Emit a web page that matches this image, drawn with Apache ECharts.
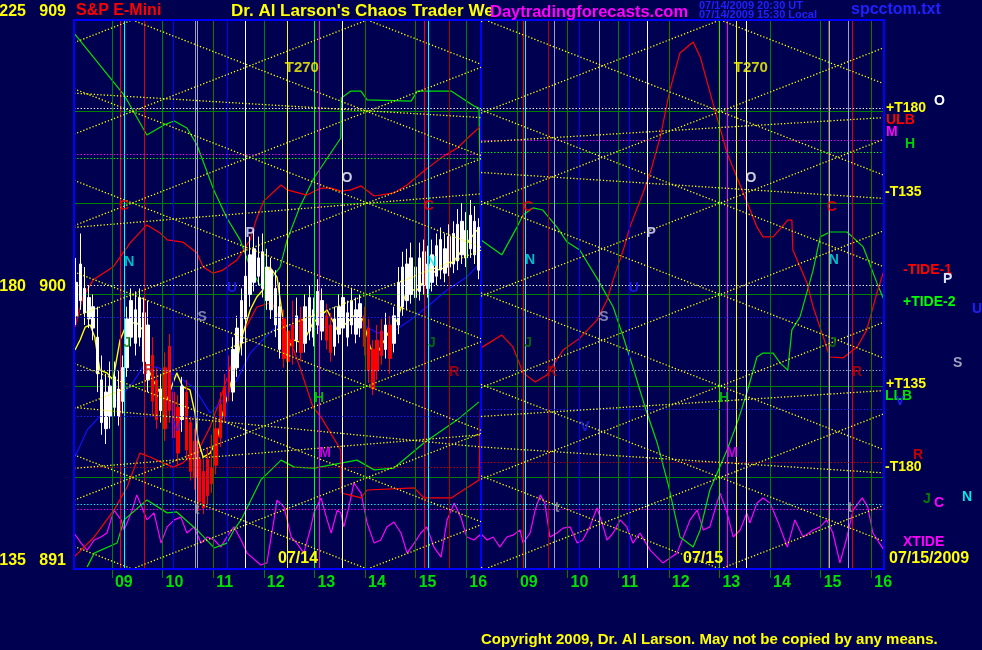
<!DOCTYPE html>
<html><head><meta charset="utf-8">
<script src="https://cdn.jsdelivr.net/npm/echarts@6/dist/echarts.min.js"></script>
<style>html,body{margin:0;padding:0;background:#000050;}#c{width:982px;height:650px;}</style>
</head><body><div id="c"></div><script>
// ---------------- DATA ----------------
const hourTicks = [9,10,11,12,13,14,15,16,17,18,19,20,21,22,23,24];
const hourTickLabels = ['09','10','11','12','13','14','15','16','09','10','11','12','13','14','15','16'];
const hourLineColors = ['#008000','#008000','#008000','#008000','#00ff00','#008000','#008000','#008000','#008000','#008000','#008000','#008000','#00ff00','#008000','#008000','#008000'];
const priceLabels = {891:'135   891', 900:'180   900', 909:'225   909'};
const dayStart = [8.25, 16.29];
const dayEnd = [16.29, 24.25];

// candles (day 1, 5-minute bars from 08:15)
const candleOpen  = [899.3,899.8,899.4,899.2,898.9,897.4,895.8,895.6,896.0,896.3,896.0,896.5,897.6,898.6,898.4,898.6,897.8,897.2,
 898.0,897.2,896.2,897.6,898.3,896.8,896.3,895.9,896.8,895.8,895.2,894.6,894.2,894.6,894.3,895.6,896.4,897.0,897.6,
 896.8,897.6,898.4,899.2,900.0,900.4,900.6,900.2,899.8,899.5,899.0,898.2,
 899.2,898.8,899.0,898.5,899.2,
 898.4,898.8,898.6,899.0,898.8,899.3,899.0,898.3,898.7,898.9,898.6,899.0,898.7,898.9,
 899.3,898.9,898.2,898.5,898.8,898.2,899.0,898.4,
 899.0,899.6,899.8,900.0,899.9,900.1,900.3,900.2,900.4,900.6,900.8,900.7,900.9,901.0,901.1,901.3,901.2,901.5,901.3,900.8];
const candleClose = [900.4,901.0,900.2,899.9,899.6,898.6,897.2,896.8,897.0,897.3,896.9,897.6,899.2,899.8,899.5,899.9,899.4,899.0,
 896.5,895.9,896.9,895.6,896.2,895.3,894.8,897.0,894.9,894.2,894.0,893.2,893.0,893.4,893.8,894.4,895.3,896.0,896.8,
 898.2,898.9,899.8,900.6,901.3,901.5,901.2,901.4,900.9,900.8,900.2,899.6,
 897.9,897.8,898.3,899.3,898.1,
 899.6,899.9,899.5,900.1,899.8,898.5,898.1,899.2,899.6,899.9,899.4,899.8,899.5,899.7,
 898.3,897.5,896.9,897.5,898.0,899.0,897.9,899.3,
 900.4,900.9,901.0,901.2,900.9,901.2,901.4,901.0,901.3,901.6,901.8,901.5,901.9,902.0,902.3,902.4,902.1,902.6,902.4,902.2];
const candleLow   = [899.0,899.5,899.0,898.9,898.5,896.8,895.4,895.1,895.6,896.0,895.7,896.1,897.3,898.3,898.0,898.3,897.4,896.8,
 896.0,895.6,895.8,895.2,895.8,894.9,894.4,895.5,894.6,893.9,893.6,892.9,892.8,893.1,893.5,894.1,895.0,895.8,896.5,
 896.5,897.3,898.0,898.9,899.6,900.1,900.3,899.9,899.5,899.2,898.6,897.9,
 897.6,897.6,897.7,898.1,897.8,
 898.1,898.5,898.3,898.7,898.5,898.2,897.8,898.0,898.4,898.6,898.3,898.7,898.4,898.6,
 898.0,897.1,896.7,897.2,897.7,897.9,897.4,898.1,
 898.7,899.3,899.5,899.7,899.6,899.8,900.0,899.9,900.1,900.3,900.5,900.4,900.6,900.7,900.8,901.0,900.9,901.2,901.0,900.5];
const candleHigh  = [901.2,902.0,900.9,900.3,900.0,899.6,898.0,897.4,897.8,897.8,897.5,898.0,899.6,900.2,900.1,900.2,899.9,899.8,
 898.6,897.6,897.4,898.1,898.7,897.1,896.7,897.3,897.2,896.0,895.6,895.0,894.6,895.0,895.4,896.0,896.8,897.4,898.0,
 898.6,899.3,900.2,901.2,901.9,902.1,901.9,902.0,901.5,901.2,900.8,900.4,
 899.5,899.2,899.8,899.9,899.6,
 900.0,900.3,899.9,900.5,900.2,899.7,899.4,899.6,900.0,900.3,899.8,900.2,899.9,900.0,
 899.6,899.2,898.5,899.0,899.2,899.4,899.3,899.6,
 900.9,901.4,901.5,901.7,901.6,901.7,901.8,901.6,901.8,902.0,902.2,902.0,902.3,902.4,902.8,903.0,902.7,903.1,902.9,902.5];

// curves: [hour, price]
const greenTideHour  = [8.25,9.24,9.69,10.03,10.23,10.48,10.68,11.02,11.27,11.53,11.73,11.92,12.12,12.32,12.46,12.71,12.99,13.52,13.53,13.72,13.92,14.04,14.91,15.03,15.70,16.15,16.25,16.29,
 16.70,17.0,17.12,17.32,17.51,17.79,17.99,18.24,18.6,18.9,19.1,19.29,19.53,19.77,19.98,20.22,20.48,20.62,20.81,21.15,21.35,21.54,21.74,21.86,22.06,22.2,22.35,22.43,22.59,22.85,22.99,23.18,23.52,23.84,24.11,24.25];
const greenTidePrice = [908.57,906.54,905.23,905.56,905.69,905.46,904.90,903.39,902.51,901.79,900.90,900.31,900.48,900.90,901.79,902.87,903.82,905.13,906.44,906.67,906.67,906.38,906.34,906.67,906.67,906.18,906.11,901.79,
 901.30,902.21,902.61,902.84,902.77,902.21,901.72,901.46,900.48,899.59,898.61,897.62,896.31,895.13,893.82,892.05,891.72,892.28,893.59,894.90,895.79,896.77,897.95,898.08,898.08,897.75,897.52,898.84,899.26,900.80,901.89,902.05,902.05,901.56,900.38,899.82];
const greenLowHour  = [8.51,8.65,9.1,9.24,9.69,10.09,10.28,10.68,11.02,11.27,11.41,11.55,11.94,12.34,12.6,12.99,13.84,14.18,14.57,15.16,15.82,16.25];
const greenLowPrice = [891.07,891.52,891.85,892.61,893.26,892.84,892.87,892.28,891.69,891.85,892.28,892.61,893.92,894.57,894.34,894.31,894.57,894.25,894.31,895.13,895.89,896.48];
const redTideHour  = [8.27,8.43,8.63,9.02,9.36,9.69,9.95,10.09,10.4,10.68,10.8,11.0,11.19,11.47,11.73,11.86,12.0,12.34,12.46,12.85,13.13,13.33,13.52,13.72,13.92,14.18,14.57,14.83,15.16,15.5,15.82,16.09,16.29,16.29,
 16.7,16.92,17.12,17.36,17.59,17.91,18.24,18.58,18.78,18.9,19.1,19.23,19.49,19.63,19.83,20.02,20.22,20.48,20.62,20.87,21.15,21.47,21.74,21.86,22.06,22.35,22.43,22.45,22.73,22.85,23.05,23.18,23.44,23.72,23.91,24.11,24.25];
const redTidePrice = [898.93,899.92,900.48,900.90,901.69,902.28,902.02,901.79,901.72,901.36,900.90,900.70,900.80,901.13,901.79,902.51,903.07,903.59,903.43,903.26,903.49,903.49,903.39,903.43,903.56,903.23,903.33,903.59,904.05,904.48,904.80,905.23,905.52,898.25,
 898.67,898.28,897.43,897.13,897.36,898.18,898.57,899.16,899.82,900.48,901.46,902.21,903.33,903.98,905.16,906.70,907.92,908.28,907.79,906.28,904.64,903.33,902.21,901.89,901.89,902.44,902.44,901.46,900.38,899.59,898.61,897.95,897.92,898.28,898.84,900.05,900.80];
const redLowHour  = [8.25,8.65,9.04,9.3,9.55,9.75,10.01,10.21,10.4,10.74,10.94,11.13,11.39,11.59,11.86,12.12,12.18,12.32,12.52,12.71,12.97,13.13,13.52,13.54,13.92,14.04,14.97,15.16,15.7,16.25,16.29];
const redLowPrice = [891.39,892.05,892.93,893.69,894.80,894.67,894.48,894.34,894.48,895.0,895.66,896.54,897.85,898.74,899.59,899.72,899.66,899.16,898.51,897.62,896.31,895.98,894.90,893.49,893.33,893.59,893.66,893.33,893.33,893.92,897.2];
const blueHour  = [8.27,8.51,8.82,9.16,9.42,9.61,9.89,10.15,10.4,10.6,10.74,10.94,11.19,11.47,11.73,11.98,12.32,12.58,12.91,13.25,13.56,13.9,14.24,14.55,14.89,15.22,15.62,16.01,16.27];
const bluePrice = [894.67,895.56,896.11,896.64,897.13,897.62,897.62,897.43,897.2,896.97,896.64,896.11,896.54,897.2,898.08,898.51,899.07,898.93,898.84,898.93,899.0,899.07,898.74,898.77,899.16,899.59,900.15,900.57,901.03];
const avgHour  = [8.27,8.37,8.47,8.57,8.66,8.76,8.9,9.02,9.16,9.3,9.49,9.61,9.71,9.81,9.99,10.09,10.19,10.28,10.4,10.54,10.64,10.7,10.8,10.94,11.07,11.19,11.33,11.47,11.59,11.73,11.86,11.98,12.12,12.26,12.38,12.46,12.58,12.77,12.97,13.25,13.45,13.64,13.84,13.96,14.1,14.2,14.35,14.49,14.63,14.83,15.03,15.22,15.42,15.62,15.82,16.01,16.21];
const avgPrice = [898.18,898.51,898.93,899.0,898.61,897.52,897.43,897.2,898.51,899.07,899.07,898.84,897.62,897.2,896.64,896.54,897.03,897.43,896.97,896.87,896.11,895.23,894.67,894.8,895.23,896.11,896.97,897.85,898.74,899.49,899.92,900.15,900.90,900.57,899.16,898.18,898.51,898.41,899.07,899.49,898.84,899.07,899.39,899.16,898.28,897.95,898.41,898.84,899.16,900.15,900.15,900.57,900.80,900.90,901.23,901.69,902.11];
const xtideHour  = [8.25,8.39,8.51,8.65,8.78,8.9,9.04,9.18,9.24,9.4,9.49,9.59,9.69,9.83,9.97,10.09,10.23,10.36,10.48,10.62,10.76,10.88,11.02,11.15,11.27,11.41,11.55,11.67,11.94,12.06,12.2,12.26,12.4,12.54,12.65,12.79,12.93,12.99,13.13,13.25,13.33,13.45,13.52,13.58,13.68,13.78,13.92,14.04,14.18,14.31,14.43,14.57,14.71,14.83,14.97,15.1,15.22,15.36,15.5,15.62,15.76,15.89,16.01,16.15,16.29,
 16.41,16.53,16.66,16.8,16.92,17.06,17.12,17.26,17.36,17.46,17.55,17.65,17.79,17.91,18.05,18.19,18.3,18.44,18.58,18.68,18.78,18.9,19.04,19.17,19.29,19.43,19.63,19.88,20.16,20.42,20.56,20.68,20.81,20.95,21.01,21.15,21.27,21.41,21.54,21.6,21.74,21.86,22.0,22.14,22.34,22.49,22.65,22.85,22.99,23.12,23.24,23.38,23.52,23.64,23.82,23.93,24.03,24.25];
const xtidePrice = [892.18,891.85,891.62,891.95,892.05,892.18,892.93,892.61,892.28,892.93,893.43,893.03,892.61,892.84,891.85,892.38,892.61,892.70,892.18,892.38,891.85,892.05,891.95,891.72,892.05,892.38,891.95,891.52,891.13,891.2,892.61,893.26,893.03,892.05,891.85,891.52,892.38,892.84,893.33,892.61,892.18,892.93,892.84,892.38,893.03,893.82,893.49,892.51,891.85,891.95,892.38,892.54,892.18,891.52,891.85,892.18,892.38,891.72,891.39,892.61,893.16,892.7,892.05,891.95,892.15,
 891.95,892.05,891.72,892.05,892.11,892.28,891.85,892.18,892.93,893.43,893.16,892.05,892.18,892.34,892.38,891.85,891.95,892.38,893.0,892.51,891.95,892.18,892.61,892.38,891.85,892.18,891.62,891.2,891.52,892.61,892.93,892.28,892.38,893.16,893.49,892.84,892.05,892.28,892.84,892.51,893.16,893.33,893.16,892.61,891.72,892.61,892.05,892.28,892.38,892.61,892.18,891.2,892.05,892.93,893.33,893.03,892.18,891.62];

// vertical event lines
const vLineHour  = [9.16,9.24,9.63,10.21,10.64,10.68,11.27,11.63,12.46,13.09,13.54,15.16,15.24,15.66,
 17.12,17.16,17.61,17.73,18.23,18.62,19.21,19.57,21.15,21.33,21.52,23.14,23.16,23.54,23.62];
const vLineColor = ['#ff0000','#00ffff','#e00000','#0000ff','#a0a0c8','#a0a0c8','#0000ff','#ffffff','#ffff00','#ff00ff','#ffffff','#ff0000','#00ffff','#b00000',
 '#ff0000','#00ffff','#b00000','#a0a0c8','#0000ff','#a0a0c8','#0000ff','#ffffff','#ff00ff','#ffff00','#ffffff','#ff0000','#00ffff','#a0a0c8','#e00000'];

// horizontal dotted levels
const hLinePrice = [906.11,904.60,904.48,905.06,904.65,900.31,899.26,897.52,896.02,896.25,894.34,894.51,893.13,892.97];
const hLineFrom  = [8.25,8.25,8.25,16.29,16.29,8.25,8.25,8.25,8.25,16.29,8.25,16.29,8.25,8.25];
const hLineTo    = [24.25,16.29,16.29,24.25,24.25,24.25,24.25,24.25,16.29,24.25,16.29,24.25,24.25,24.25];
const hLineColor = ['#ffffff','#ff00ff','#00ff00','#ff00ff','#00ff00','#ffffff','#2020ff','#b0b0d0','#2020ff','#2020ff','#d00000','#d00000','#00ffff','#ff00ff'];

// T lines: lattice through apex times, plus slow T135/T180 lines
const tApexHour = [9.40, 16.37];
const tSlope = 0.646;   // price points per hour
const tStep = 3;
const tFlatFromHour  = [8.25,8.25,8.25,8.25,16.29,16.29,16.29,16.29];
const tFlatToHour    = [16.29,16.29,16.29,16.29,24.25,24.25,24.25,24.25];
const tFlatFromPrice = [906.6,902.2,896.3,894.3,905.0,904.0,896.0,895.0];
const tFlatToPrice   = [905.8,903.3,895.0,895.4,905.8,903.15,896.85,894.15];

// letters in plot
const letterText  = ['C','C','N','N','P','O','U','S','J','J','R','R','H','V','M','t','T270',
                     'C','C','N','N','P','O','U','S','J','J','R','R','H','V','M','t','t','T270'];
const letterHour  = [9.24,15.26,9.34,15.32,11.73,13.64,11.37,10.78,9.30,15.32,9.73,15.76,13.09,10.29,13.21,10.68,12.75,
                     17.22,23.22,17.26,23.26,19.65,21.62,19.31,18.72,17.22,23.24,17.69,23.72,21.09,18.34,21.25,17.79,23.58,21.62];
const letterPrice = [902.9,902.9,901.07,901.07,902.02,903.82,900.21,899.26,898.41,898.41,897.52,897.46,896.61,895.66,894.8,892.93,907.43,
                     902.87,902.87,901.13,901.13,902.02,903.82,900.21,899.26,898.41,898.41,897.46,897.46,896.61,895.66,894.8,893.0,893.0,907.43];
const letterColor = {C:'#ff0000',N:'#00e8e8',P:'#e0e0ff',O:'#ffffff',U:'#2020ff',S:'#a0a0c0',J:'#008000',R:'#c00000',H:'#00e000',V:'#2020ff',M:'#ff00ff',t:'#a0a0a0',T270:'#ffff00'};

// ---------------- BUILD ----------------
const FONT = '"Liberation Sans", Arial, sans-serif';
function pairs(xs, ys){ return xs.map((x,i)=>[x, ys[i]]); }
function clipLine(h0, p0, s, hA, hB){
  const hLo = h0 + (891 - p0)/s, hHi = h0 + (909 - p0)/s;
  const a = Math.max(hA, Math.min(hLo,hHi)), b = Math.min(hB, Math.max(hLo,hHi));
  if (b <= a) return null;
  return [[a, p0 + s*(a-h0)], [b, p0 + s*(b-h0)]];
}
const DOT = [1.3, 2];
const mlData = [];
hourTicks.forEach((h,i)=>mlData.push([{coord:[h,891], lineStyle:{color:hourLineColors[i], width:1, type:'solid'}},{coord:[h,909]}]));
vLineHour.forEach((h,i)=>mlData.push([{coord:[h,891], lineStyle:{color:vLineColor[i], width:1, type:'solid'}},{coord:[h,909]}]));
mlData.push([{coord:[16.29,891], lineStyle:{color:'#0000ff', width:2, type:'solid'}},{coord:[16.29,909]}]);
hLinePrice.forEach((p,i)=>mlData.push([{coord:[hLineFrom[i],p], lineStyle:{color:hLineColor[i], width:1.2, type:DOT}},{coord:[hLineTo[i],p]}]));
tApexHour.forEach((h0,d)=>{
  for (let n=-10;n<=16;n++){
    [tSlope,-tSlope].forEach(s=>{
      const seg = clipLine(h0, 891 + tStep*n, s, dayStart[d], dayEnd[d]);
      if (seg) mlData.push([{coord:seg[0], lineStyle:{color:'#ffff00', width:1.3, type:DOT}},{coord:seg[1]}]);
    });
  }
});
tFlatFromHour.forEach((h,i)=>mlData.push([{coord:[h,tFlatFromPrice[i]], lineStyle:{color:'#ffff00', width:1.3, type:DOT}},{coord:[tFlatToHour[i],tFlatToPrice[i]]}]));

const candleCats = candleOpen.map((_,i)=>{const m=8*60+15+i*5; return String(Math.floor(m/60)).padStart(2,'0')+':'+String(m%60).padStart(2,'0');});
const candleData = candleOpen.map((o,i)=>[o, candleClose[i], candleLow[i], candleHigh[i]]);

const letterData = letterText.map((t,i)=>({value:[letterHour[i], letterPrice[i]], name:t,
  label:{color:letterColor[t], fontSize: t==='T270'?15:14}}));

function curve(xs, ys, color, width){
  return {type:'line', xAxisIndex:0, yAxisIndex:0, data:pairs(xs,ys), showSymbol:false, symbol:'none', z:3,
    lineStyle:{color, width: width||1.2}, silent:true, clip:true};
}

const txt = (text, x, y, fill, size, align) => ({type:'text', x, y, z:100, silent:true,
  style:{text, fill, font:'bold '+size+'px '+FONT, align: align||'left', verticalAlign:'middle'}});

const option = {
  backgroundColor:'#000050',
  animation:false,
  grid:[
    {left:74, top:20, width:810, height:549, show:true, borderColor:'#0000ff', borderWidth:2, backgroundColor:'transparent', z:10,
     containLabel:false, outerBoundsMode:'none'},
    {left:74, top:20, width:407, height:549, show:false, containLabel:false, outerBoundsMode:'none'}
  ],
  xAxis:[
    {type:'value', gridIndex:0, min:8.25, max:24.25, splitLine:{show:false},
     axisLine:{show:false},
     axisTick:{show:true, customValues:hourTicks, length:9, lineStyle:{color:'#008000'}},
     axisLabel:{show:true, customValues:hourTicks, color:'#00e000', fontWeight:'bold', fontSize:16, fontFamily:FONT,
       align:'left', margin:6, padding:[0,0,0,3],
       formatter:(v)=>{const i=hourTicks.indexOf(Math.round(v)); return i>=0?hourTickLabels[i]:'';}}},
    {type:'category', gridIndex:1, data:candleCats, boundaryGap:true, show:false}
  ],
  yAxis:[
    {type:'value', gridIndex:0, min:891, max:909, interval:3,
     splitLine:{show:true, lineStyle:{color:'#008000', width:1}},
     axisLine:{show:false}, axisTick:{show:false},
     axisLabel:{color:'#ffff00', fontWeight:'bold', fontSize:16, fontFamily:FONT, margin:8, verticalAlign:'bottom',
       formatter:(v)=>priceLabels[v]||''}},
    {type:'value', gridIndex:1, min:891, max:909, show:false}
  ],
  series:[
    {type:'line', xAxisIndex:0, yAxisIndex:0, data:[[8.25,891]], symbol:'none', silent:true, z:1,
     lineStyle:{width:0},
     markLine:{silent:true, symbol:['none','none'], label:{show:false}, emphasis:{disabled:true}, animation:false, data:mlData}},
    curve(xtideHour, xtidePrice, '#ff00ff', 1.2),
    curve(greenLowHour, greenLowPrice, '#00e000', 1.2),
    curve(greenTideHour, greenTidePrice, '#00e000', 1.2),
    curve(redLowHour, redLowPrice, '#ff0000', 1.2),
    curve(redTideHour, redTidePrice, '#ff0000', 1.2),
    curve(blueHour, bluePrice, '#1010ff', 1.2),
    {type:'candlestick', xAxisIndex:1, yAxisIndex:1, data:candleData, barWidth:3, z:4, silent:true,
     itemStyle:{color:'#ffffff', color0:'#ff0000', borderColor:'#ffffff', borderColor0:'#ff0000', borderWidth:1}},
    curve(avgHour, avgPrice, '#ffff00', 1.4),
    {type:'scatter', xAxisIndex:0, yAxisIndex:0, data:letterData, symbolSize:0, z:6, silent:true,
     label:{show:true, position:'inside', formatter:(p)=>p.name, fontWeight:'bold', fontFamily:FONT}}
  ],
  graphic:[
    txt('S&P E-Mini', 76, 11, '#ff0000', 16),
    txt("Dr. Al Larson's Chaos Trader We", 231, 11, '#ffff00', 17),
    txt('Daytradingforecasts.com', 490, 12, '#ff00ff', 16.5),
    txt('07/14/2009 20:30 UT', 699, 6, '#2020ff', 11),
    txt('07/14/2009 15:30 Local', 699, 15, '#2020ff', 11),
    txt('spcctom.txt', 851, 10, '#2020ff', 16),
    txt('07/14', 278, 559, '#ffff00', 16),
    txt('07/15', 683, 559, '#ffff00', 16),
    txt('07/15/2009', 889, 559, '#ffff00', 16),
    txt('XTIDE', 903, 542, '#ff00ff', 14),
    txt('Copyright 2009, Dr. Al Larson. May not be copied by any means.', 481, 640, '#ffff00', 15),
    txt('+T180', 886, 108, '#ffff00', 14),
    txt('ULB', 886, 120, '#ff0000', 14),
    txt('M', 886, 132, '#ff00ff', 14),
    txt('H', 905, 144, '#00d000', 14),
    txt('O', 934, 101, '#ffffff', 14),
    txt('-T135', 885, 192, '#ffff00', 14),
    txt('-TIDE-1', 903, 270, '#ff0000', 14),
    txt('P', 943, 279, '#e0e0ff', 14),
    txt('+TIDE-2', 903, 302, '#00ff00', 14),
    txt('U', 972, 309, '#2020ff', 14),
    txt('S', 953, 363, '#a0a0c0', 14),
    txt('+T135', 886, 384, '#ffff00', 14),
    txt('LLB', 885, 396, '#00e000', 14),
    txt('V', 896, 402, '#2020ff', 12),
    txt('R', 913, 455, '#c00000', 14),
    txt('-T180', 885, 467, '#ffff00', 14),
    txt('J', 923, 499, '#008000', 14),
    txt('C', 934, 503, '#ff00ff', 14),
    txt('N', 962, 497, '#00e8e8', 14)
  ]
};
echarts.init(document.getElementById('c'), null, {renderer:'canvas'}).setOption(option);
</script></body></html>
